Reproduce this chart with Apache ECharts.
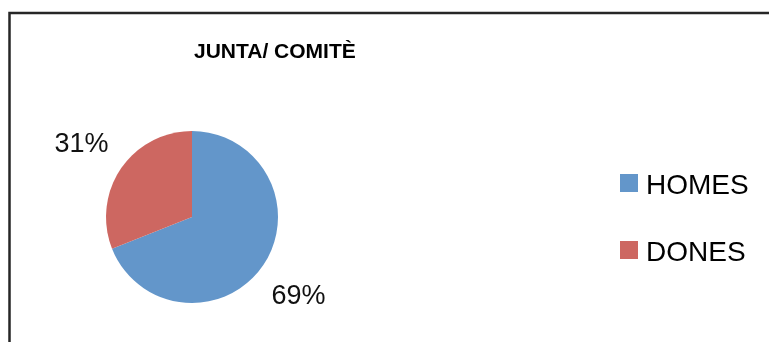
<!DOCTYPE html>
<html>
<head>
<meta charset="utf-8">
<script src="https://cdn.jsdelivr.net/npm/echarts@6/dist/echarts.min.js"></script>
<style>
  html, body { margin: 0; padding: 0; background: #fff; }
  #chart { width: 769px; height: 342px; }
</style>
</head>
<body>
<div id="chart"></div>
<script>
// Board composition: men vs women on the committee
const chartTitle = 'JUNTA/ COMITÈ';
const categories = ['HOMES', 'DONES'];
const shares = [69, 31];
const sliceColors = ['#6396CA', '#CD6761'];
// small nudges so each percentage sits where a spreadsheet "best fit" would put it
const labelNudge = [[-6, 6], [2, 1]];

const chart = echarts.init(document.getElementById('chart'), null, { renderer: 'canvas' });

chart.setOption({
  animation: false,
  backgroundColor: '#ffffff',
  color: sliceColors,
  graphic: [{
    type: 'rect',
    silent: true,
    shape: { x: 9.5, y: 13, width: 900, height: 500 },
    style: { fill: 'none', stroke: '#262626', lineWidth: 2.5 }
  }],
  title: {
    text: chartTitle,
    left: 194,
    top: 42,
    padding: 0,
    textStyle: {
      fontFamily: 'Liberation Sans',
      fontWeight: 'bold',
      fontSize: 21,
      color: '#000'
    }
  },
  legend: {
    orient: 'vertical',
    left: 620,
    top: 166,
    padding: 0,
    itemWidth: 18,
    itemHeight: 18,
    itemGap: 33,
    icon: 'rect',
    data: categories,
    formatter: '{t|{name}}',
    textStyle: {
      rich: {
        t: {
          fontFamily: 'Liberation Sans',
          fontSize: 28,
          lineHeight: 30,
          color: '#000',
          padding: [6, 0, 0, 3]
        }
      }
    }
  },
  series: [{
    type: 'pie',
    center: [192, 217],
    radius: 86,
    startAngle: 90,
    clockwise: true,
    avoidLabelOverlap: false,
    data: categories.map((name, i) => ({ name, value: shares[i] })),
    label: {
      show: true,
      position: 'outside',
      formatter: p => Math.round(p.percent) + '%',
      fontFamily: 'Liberation Sans',
      fontSize: 27,
      color: '#111'
    },
    labelLine: { show: false, length: 44, length2: 0 },
    labelLayout: p => ({ align: 'center', dx: labelNudge[p.dataIndex][0], dy: labelNudge[p.dataIndex][1] }),
    itemStyle: { borderWidth: 0 },
    emphasis: { disabled: true }
  }]
});
</script>
</body>
</html>
